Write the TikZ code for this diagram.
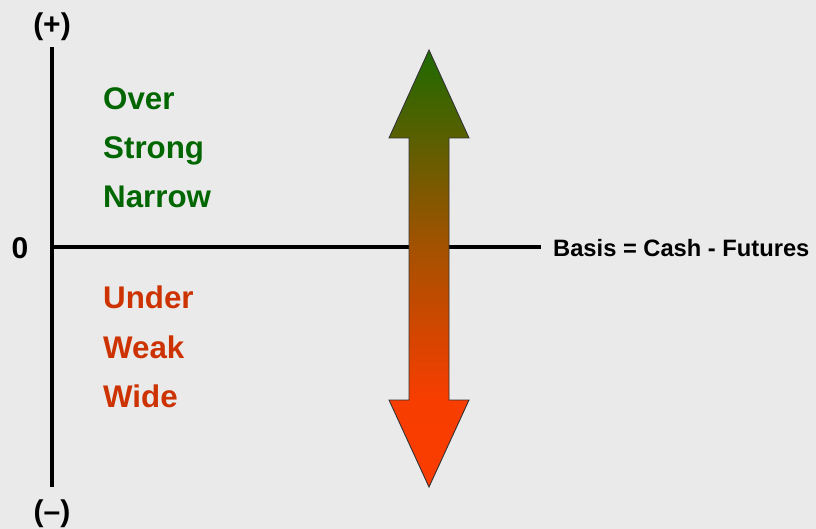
\documentclass[tikz,border=0pt]{standalone}
\usepackage{fontspec}
\setmainfont{Liberation Sans}
\definecolor{arrtop}{HTML}{1E6A00}
\definecolor{arrmid}{HTML}{A35200}
\definecolor{arrlow}{HTML}{F83D00}
\definecolor{arrbot}{HTML}{FF3A00}
\pgfdeclareverticalshading{arrshade}{100bp}{color(0bp)=(arrbot); color(35bp)=(arrlow); color(52.6bp)=(arrmid); color(75bp)=(arrtop); color(100bp)=(arrtop)}
\begin{document}
\begin{tikzpicture}[x=1pt,y=-1pt,
  axis/.style={line width=3.6pt, black},
  bigtxt/.style={font=\bfseries\fontsize{31.3}{36}\selectfont, anchor=base west, inner sep=0pt},
  axlbl/.style={font=\bfseries\fontsize{30}{35}\selectfont, inner sep=0pt},
  goodtxt/.style={bigtxt, text=goodgreen},
  badtxt/.style={bigtxt, text=badred},
  basistxt/.style={font=\bfseries\fontsize{23.7}{28}\selectfont, anchor=base west, inner sep=0pt},
]
\definecolor{bg}{HTML}{EAEAEA}
\definecolor{goodgreen}{HTML}{006600}
\definecolor{badred}{HTML}{CC3300}
\useasboundingbox[fill=bg] (0,0) rectangle (816,529);

% axes
\coordinate (vtop) at (52,47.5);
\coordinate (vbot) at (52,487);
\coordinate (horg) at (52,247);
\coordinate (hend) at (541,247);
\draw[axis] (horg) -- (hend);
\draw[axis] (vtop) -- (vbot);

% axis labels
\node[axlbl] (plus) at (52,26.5) {(+)};
\node[axlbl] (zero) at (20,248) {0};
\node[axlbl] (minus) at (52,514) {(–)};

% double arrow
\path[draw=black!80, line width=0.9pt, shading=arrshade, line join=miter]
  (429,50) -- (469,138) -- (449,138) -- (449,400) -- (469,400) -- (429,487)
  -- (389,400) -- (409,400) -- (409,138) -- (389,138) -- cycle;

% texts
\node[goodtxt] (over) at (103,109.5) {Over};
\node[goodtxt] (strong) at (103,158.5) {Strong};
\node[goodtxt] (narrow) at (103,208) {Narrow};
\node[badtxt] (under) at (103,308.5) {Under};
\node[badtxt] (weak) at (103,358) {Weak};
\node[badtxt] (wide) at (103,407) {Wide};

\node[basistxt] (basis) at (553,256.7) {Basis = Cash - Futures};
\end{tikzpicture}
\end{document}
